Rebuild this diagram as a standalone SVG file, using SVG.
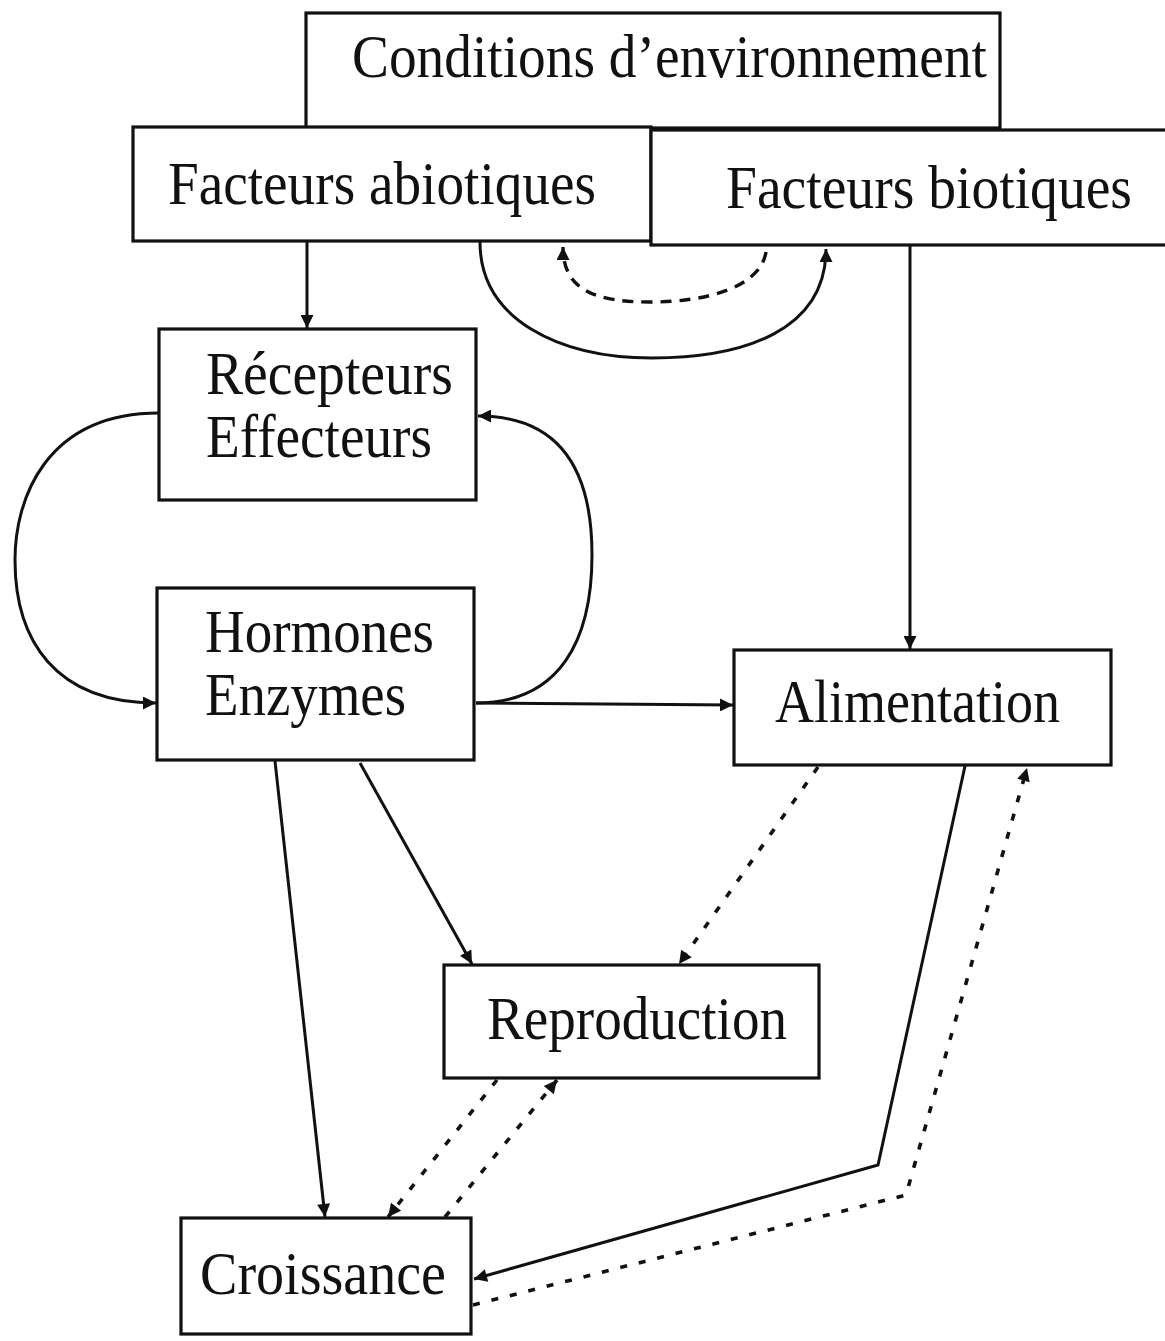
<svg xmlns="http://www.w3.org/2000/svg" width="1165" height="1341" viewBox="0 0 1165 1341">
<style>
  .box { fill: #fff; stroke: #111; stroke-width: 3.2; }
  .lbl { font-family: "Liberation Serif", "Times New Roman", serif; font-size: 62px; fill: #111; }
  .ln { fill: none; stroke: #111; stroke-width: 3; }
  .dot { fill: none; stroke: #111; stroke-width: 3.6; stroke-dasharray: 7 12; }
  .dash { fill: none; stroke: #111; stroke-width: 3.4; stroke-dasharray: 11 8; }
</style>
<defs>
  <marker id="ah" viewBox="0 0 10 10" refX="10" refY="5" markerWidth="18" markerHeight="13" markerUnits="userSpaceOnUse" orient="auto">
    <path d="M0,0 L10,5 L0,10 Z" fill="#111"/>
  </marker>
</defs>
<rect width="1165" height="1341" fill="#fff"/>

<g id="conditions">
  <rect class="box" x="306" y="13" width="694" height="115"/>
  <text class="lbl" x="352" y="77" textLength="635" lengthAdjust="spacingAndGlyphs">Conditions d’environnement</text>
</g>
<g id="abiotiques">
  <rect class="box" x="133" y="127" width="518" height="114"/>
  <text class="lbl" x="168" y="204" textLength="428" lengthAdjust="spacingAndGlyphs">Facteurs abiotiques</text>
</g>
<g id="biotiques">
  <rect class="box" x="651" y="130" width="520" height="115"/>
  <text class="lbl" x="726" y="208" textLength="406" lengthAdjust="spacingAndGlyphs">Facteurs biotiques</text>
</g>
<g id="recepteurs">
  <rect class="box" x="159" y="329" width="317" height="171"/>
  <text class="lbl" x="206" y="394" textLength="247" lengthAdjust="spacingAndGlyphs">Récepteurs</text>
  <text class="lbl" x="206" y="457" textLength="226" lengthAdjust="spacingAndGlyphs">Effecteurs</text>
</g>
<g id="hormones">
  <rect class="box" x="157" y="588" width="317" height="172"/>
  <text class="lbl" x="205" y="652" textLength="229" lengthAdjust="spacingAndGlyphs">Hormones</text>
  <text class="lbl" x="205" y="715" textLength="201" lengthAdjust="spacingAndGlyphs">Enzymes</text>
</g>
<g id="alimentation">
  <rect class="box" x="734" y="650" width="377" height="115"/>
  <text class="lbl" x="775" y="722" textLength="285" lengthAdjust="spacingAndGlyphs">Alimentation</text>
</g>
<g id="reproduction">
  <rect class="box" x="444" y="965" width="375" height="113"/>
  <text class="lbl" x="487" y="1039" textLength="300" lengthAdjust="spacingAndGlyphs">Reproduction</text>
</g>
<g id="croissance">
  <rect class="box" x="181" y="1218" width="290" height="116"/>
  <text class="lbl" x="200" y="1294" textLength="246" lengthAdjust="spacingAndGlyphs">Croissance</text>
</g>

<g id="connectors">
  <path class="ln" d="M307,241 L307,328" marker-end="url(#ah)"/>
  <path class="ln" d="M480,242 C480,320 560,358 652,358 C745,358 826,330 826,249" marker-end="url(#ah)"/>
  <path class="dash" d="M766,252 C760,288 705,302 650,302 C595,302 563,290 563,247" marker-end="url(#ah)"/>
  <path class="ln" d="M910,246 L910,649" marker-end="url(#ah)"/>
  <path class="ln" d="M159,413 C45,413 15,500 15,560 C15,640 55,703 156,703" marker-end="url(#ah)"/>
  <path class="ln" d="M476,703 C560,703 592,640 592,555 C592,470 560,416 478,416" marker-end="url(#ah)"/>
  <path class="ln" d="M476,703 L733,705" marker-end="url(#ah)"/>
  <path class="ln" d="M275,761 L325,1217" marker-end="url(#ah)"/>
  <path class="ln" d="M360,763 L472,964" marker-end="url(#ah)"/>
  <path class="dot" d="M818,767 L679,964" marker-end="url(#ah)"/>
  <path class="ln" d="M965,766 L878,1165 L474,1279" marker-end="url(#ah)"/>
  <path class="dot" d="M473,1305 L906,1195 L1027,768" marker-end="url(#ah)"/>
  <path class="dot" d="M497,1080 L388,1217" marker-end="url(#ah)"/>
  <path class="dot" d="M445,1217 L557,1080" marker-end="url(#ah)"/>
</g>
</svg>
